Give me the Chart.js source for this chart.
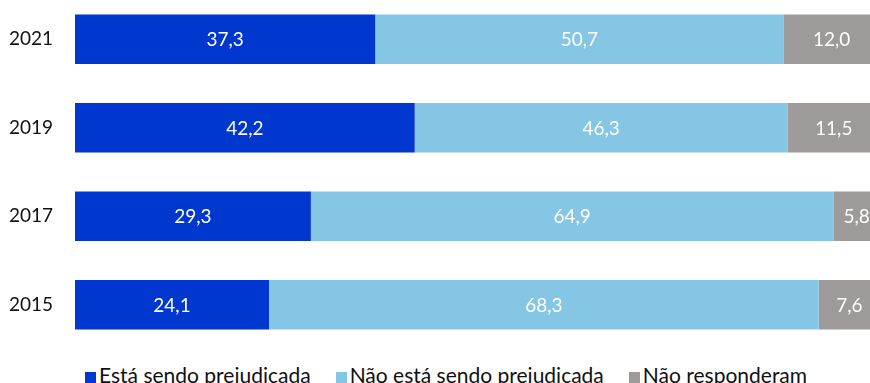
<!DOCTYPE html>
<html>
<head>
<meta charset="utf-8">
<script src="https://cdn.jsdelivr.net/npm/chart.js@4/dist/chart.umd.min.js"></script>
<style>
    html, body {
        margin: 0;
        padding: 0;
        background: #fff;
        width: 870px;
        height: 383px;
        overflow: hidden;
        font-family: Lato, sans-serif;
    }

    .wrap {
        position: absolute;
        left: 0;
        top: -5px;
        width: 880px;
        height: 354px;
    }

    .legend {
        position: absolute;
        left: 85px;
        top: 362px;
        display: flex;
        font-size: 21px;
        color: #111;
        white-space: nowrap;
    }

    .legend .item {
        display: flex;
        align-items: center;
        margin-right: 25px;
    }

    .legend .box {
        width: 11px;
        height: 11px;
        margin-right: 3px;
        margin-top: 6px;
    }
</style>
</head>
<body>
<div class="wrap"><canvas id="chart1"></canvas></div>
<div class="legend" id="legend"></div>

<script>
var years = ["2021", "2019", "2017", "2015"];
var seriesNames = ["Está sendo prejudicada", "Não está sendo prejudicada", "Não responderam"];
var prejudicada = [37.3, 42.2, 29.3, 24.1];
var naoPrejudicada = [50.7, 46.3, 64.9, 68.3];
var naoResponderam = [12.0, 11.5, 5.8, 7.6];
var colors = ["#0037ce", "#85c6e4", "#9e9a99"];

// white value labels in the middle of each segment
var barLabels = {
    id: 'barLabels',
    afterDatasetsDraw: function (chart) {
        var ctx = chart.ctx;
        ctx.save();
        ctx.fillStyle = '#fff';
        ctx.font = '19px Lato, sans-serif';
        ctx.textAlign = 'center';
        ctx.textBaseline = 'middle';
        chart.data.datasets.forEach(function (ds, i) {
            chart.getDatasetMeta(i).data.forEach(function (bar, j) {
                var txt = ds.data[j].toFixed(1).replace('.', ',');
                ctx.fillText(txt, (bar.x + bar.base) / 2, bar.y + 1);
            });
        });
        ctx.restore();
    }
};

var datasets = [prejudicada, naoPrejudicada, naoResponderam].map(function (vals, i) {
    return {
        label: seriesNames[i],
        data: vals,
        backgroundColor: colors[i],
        borderWidth: 0,
        barPercentage: 1,
        categoryPercentage: 0.56
    };
});

var ctx = document.getElementById("chart1").getContext("2d");
var chart = new Chart(ctx, {
    type: 'bar',
    data: {
        labels: years,
        datasets: datasets
    },
    options: {
        indexAxis: 'y',
        responsive: true,
        maintainAspectRatio: false,
        animation: false,
        layout: { padding: 0 },
        plugins: {
            legend: { display: false },
            tooltip: { enabled: false }
        },
        scales: {
            x: {
                stacked: true,
                min: 0,
                max: 100,
                display: false
            },
            y: {
                stacked: true,
                grid: { display: false, drawTicks: false },
                border: { display: false },
                ticks: {
                    color: '#111',
                    padding: 22,
                    font: { family: 'Lato, sans-serif', size: 19 }
                },
                // fixed axis width, no extra room above/below the bars
                afterFit: function (scale) {
                    scale.width = 75;
                    scale.paddingTop = 0;
                    scale.paddingBottom = 0;
                }
            }
        }
    },
    plugins: [barLabels]
});

// legend below the bars
var legend = document.getElementById('legend');
seriesNames.forEach(function (name, i) {
    var item = document.createElement('div');
    item.className = 'item';
    var box = document.createElement('span');
    box.className = 'box';
    box.style.background = colors[i];
    var txt = document.createElement('span');
    txt.textContent = name;
    item.appendChild(box);
    item.appendChild(txt);
    legend.appendChild(item);
});
</script>
</body>
</html>
